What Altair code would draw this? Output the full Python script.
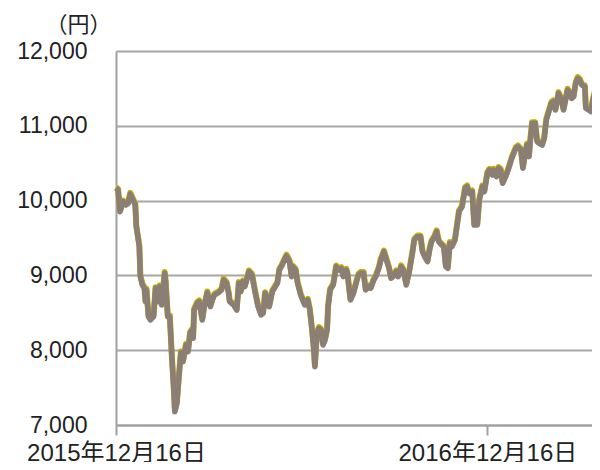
import altair as alt
import pandas as pd

# days since 2015-12-16 and price in yen
days = [0, 2, 4, 7, 10, 12, 14, 16, 19, 20, 23, 24, 26, 28, 29, 30, 32, 34, 37, 39,
        42, 43, 45, 48, 49, 51, 53, 55, 57, 58, 60, 62, 64, 66, 67, 69, 71, 73, 75, 76,
        77, 80, 82, 85, 87, 90, 93, 95, 97, 101, 104, 106, 109, 111, 112, 116, 119, 121, 123, 125,
        127, 131, 134, 137, 140, 143, 145, 147, 149, 151, 154, 156, 159, 161, 163, 166, 168, 171, 173, 174,
        177, 179, 182, 184, 186, 189, 191, 193, 195, 196, 198, 200, 202, 204, 206, 208, 209, 211, 214, 217,
        219, 222, 224, 227, 228, 231, 234, 237, 239, 241, 244, 246, 249, 251, 254, 256, 259, 261, 264, 266,
        269, 271, 273, 276, 278, 281, 283, 286, 289, 292, 294, 297, 300, 302, 305, 307, 309, 311, 314, 316,
        318, 321, 323, 325, 327, 329, 331, 334, 338, 341, 344, 346, 348, 351, 353, 356, 358, 361, 363, 366,
        368, 371, 372, 375, 377, 379, 381, 384, 387, 390, 394, 396, 399, 401, 403, 405, 407, 408, 410, 413,
        415, 417, 420, 422, 424, 426, 429, 431, 433, 435, 436, 439, 441, 443, 445, 447, 449, 451, 453, 455,
        457, 459, 462, 463, 466, 468, 470, 473]
prices = [10164, 10142, 9852, 9985, 9941, 9964, 10088, 10031, 9941, 9651, 9384, 8983, 8872, 8827, 8649, 8805, 8448, 8404, 8448, 8827,
          8649, 8850, 8604, 9028, 8894, 8448, 8448, 7913, 7468, 7178, 7290, 7646, 7967, 7847, 7913, 8070, 7980, 8226, 8270, 8159,
          8537, 8627, 8649, 8404, 8582, 8769, 8582, 8671, 8738, 8769, 8805, 8939, 8894, 8760, 8649, 8604, 8537, 8894, 8782, 8916,
          8850, 9050, 9005, 8782, 8582, 8471, 8493, 8760, 8671, 8582, 8782, 8827, 8894, 9072, 9117, 9206, 9260, 9184, 8983, 9117,
          9072, 8894, 8738, 8671, 8604, 8671, 8537, 8293, 8003, 7780, 8226, 8293, 8270, 8070, 8136, 8270, 8582, 8805, 8872, 9117,
          9072, 9095, 8983, 9072, 9028, 8671, 8760, 8916, 9005, 9028, 9028, 8805, 8850, 8827, 8939, 8983, 9095, 9206, 9317, 9228,
          9095, 8961, 8983, 9050, 8983, 9117, 9072, 8872, 9050, 9295, 9473, 9518, 9518, 9317, 9228, 9184, 9340, 9451, 9518, 9585,
          9451, 9406, 9384, 9117, 9095, 9429, 9384, 9473, 9852, 9918, 10164, 10186, 10097, 10120, 9674, 9674, 10008, 10186, 10120, 10365,
          10409, 10342, 10409, 10320, 10432, 10409, 10231, 10320, 10432, 10566, 10699, 10721, 10677, 10432, 10610, 10743, 10588, 10766, 11033, 11033,
          10788, 10766, 10743, 10833, 11078, 11167, 11301, 11323, 11211, 11345, 11434, 11345, 11211, 11345, 11479, 11434, 11367, 11390, 11568, 11635,
          11612, 11545, 11523, 11234, 11211, 11189, 11345, 11501]

start_date = "2015-12-16"
end_date = "2017-04-02"
y_ticks = [7000, 8000, 9000, 10000, 11000, 12000]

df = pd.DataFrame({
    "date": (pd.Timestamp(start_date) + pd.to_timedelta(days, unit="D")).strftime("%Y-%m-%d"),
    "price": prices,
})

x_enc = alt.X(
    "date:T",
    scale=alt.Scale(domain=[start_date, end_date]),
    axis=alt.Axis(
        values=[alt.DateTime(year=2015, month=12, date=16), alt.DateTime(year=2016, month=12, date=16)],
        format="%Y年%m月%d日",
        title=None,
        grid=False,
        tickSize=10,
        tickColor="#a0a0a0",
        tickWidth=2,
        domainColor="#a0a0a0",
        domainWidth=2,
        labelFontSize=24,
        labelFont="Liberation Sans, Noto Sans CJK JP",
        labelColor="#222222",
        labelPadding=6,
        labelFlush=False,
        labelOverlap=False,
    ),
)
y_enc = alt.Y(
    "price:Q",
    scale=alt.Scale(domain=[7000, 12000], nice=False, zero=False),
    axis=alt.Axis(
        values=y_ticks,
        format=",d",
        title="（円）",
        titleAngle=0,
        titleAlign="center",
        titleBaseline="middle",
        titleX=-38,
        titleY=-27,
        titleFontSize=22,
        titleFontWeight="normal",
        titleFont="Noto Sans CJK JP",
        titleColor="#222222",
        ticks=False,
        grid=True,
        gridColor="#a6a6a6",
        gridWidth=2,
        domainColor="#a0a0a0",
        domainWidth=2,
        labelFontSize=23,
        labelFont="Liberation Sans",
        labelColor="#222222",
        labelPadding=29,
    ),
)

base = alt.Chart(df)
yellow = base.mark_line(color="#c8b000", strokeWidth=6, strokeJoin="round", yOffset=-1.2).encode(x=x_enc, y=y_enc)
gray = base.mark_line(color="#8b7e74", strokeWidth=5.5, strokeJoin="round").encode(x=x_enc, y=y_enc)

chart = (
    alt.layer(yellow, gray)
    .properties(
        width=480,
        height=374,
        autosize=alt.AutoSizeParams(type="none"),
        padding={"left": 108, "top": 43, "right": -4, "bottom": 37},
    )
    .configure_view(stroke="#a0a0a0", strokeWidth=2)
    .configure(background="white")
)

chart.save("out.html", embed_options={"renderer": "svg", "actions": False})
